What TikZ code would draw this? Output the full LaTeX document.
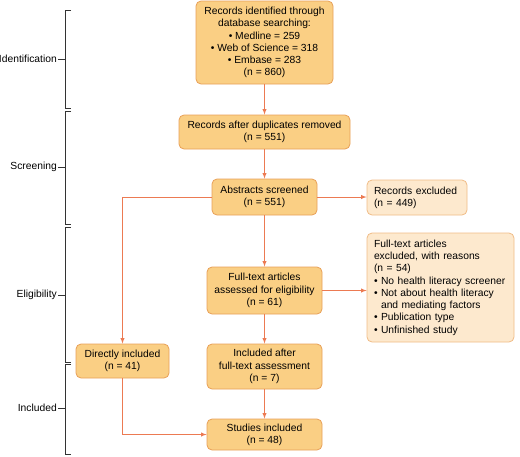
\documentclass[tikz,border=0pt]{standalone}
\usepackage{fontspec}
\setmainfont{Liberation Sans}
\usetikzlibrary{arrows}
\usetikzlibrary{positioning}
\tikzset{box/.style = {draw = mdraw, fill = mfill, rounded corners = 5pt, line width = 0.8pt, align = center, inner sep = 0pt, font = \fontsize{10.3}{12.3}\selectfont}}
\tikzset{lbox/.style = {box, draw = ldraw, fill = lfill, align = left, inner xsep = 7pt}}
\tikzset{flow/.style = {marrow, line width = 0.9pt, -latex}}
\tikzset{brack/.style = {line width = 0.9pt, black!80}}
\definecolor{mfill}{RGB}{250, 207, 132}
\definecolor{mdraw}{RGB}{232, 160, 88}
\definecolor{lfill}{RGB}{253, 233, 206}
\definecolor{ldraw}{RGB}{240, 188, 135}
\definecolor{marrow}{RGB}{236, 122, 82}

\begin{document}
\begin{tikzpicture}[x = 1pt, y = -1pt]
    \useasboundingbox (0, 0) rectangle (520, 456);

    \node (ident) [box, minimum width = 137, minimum height = 83] at (264.5, 42.5)
      {Records identified through\\ database searching:\\ • Medline = 259\\ • Web of Science = 318\\ • Embase = 283\\ (n = 860)};
    \node (dup) [box, minimum width = 171, minimum height = 34] at (264.5, 132) {Records after duplicates removed\\ (n = 551)};
    \node (abs) [box, minimum width = 105, minimum height = 36] at (264.5, 197) {Abstracts screened\\ (n = 551)};
    \node (excl) [lbox, text width = 86, minimum height = 35] at (417, 197.5) {Records excluded\\ (n = 449)};
    \node (ft) [box, minimum width = 115, minimum height = 47] at (264.5, 290.5) {Full-text articles\\ assessed for eligibility\\ (n = 61)};
    \node (ftexcl) [lbox, text width = 133, minimum height = 109] at (440.5, 287.5)
      {Full-text articles\\ excluded, with reasons\\ (n = 54)\\ • No health literacy screener\\ • Not about health literacy\\ \phantom{• }and mediating factors\\ • Publication type\\ • Unfinished study};
    \node (direct) [box, minimum width = 93, minimum height = 34] at (122.5, 361) {Directly included\\ (n = 41)};
    \node (incl) [box, minimum width = 115, minimum height = 45] at (264.5, 366.5) {Included after\\ full-text assessment\\ (n = 7)};
    \node (studies) [box, minimum width = 115, minimum height = 31] at (264.5, 434.5) {Studies included\\ (n = 48)};

    \draw [flow] (ident) -- (dup);
    \draw [flow] (dup) -- (abs);
    \draw [flow] (abs.east) -- (abs.east -| excl.west);
    \draw [flow] (abs) -- (ft);
    \draw [flow] (ft.east) -- (ft.east -| ftexcl.west);
    \draw [flow] (ft) -- (incl);
    \draw [flow] (incl) -- (studies);
    \draw [flow] (abs.west) -| (direct.north);
    \draw [flow] (direct.south) |- (studies.west);

    % stage brackets
    \foreach \top/\bot/\mid/\stage in {10/108/59/Identification, 111/224/167/Screening, 227/362/295/Eligibility, 364/454/408/Included} {
      \draw [brack] (71, \top) -- (65, \top) -- (65, \bot) -- (71, \bot);
      \draw [brack] (58, \mid) -- (65, \mid);
      \node [anchor = east, inner sep = 1pt, font = \fontsize{10.3}{12.3}\selectfont] at (58, \mid) {\stage};
    }
  \end{tikzpicture}
\end{document}
